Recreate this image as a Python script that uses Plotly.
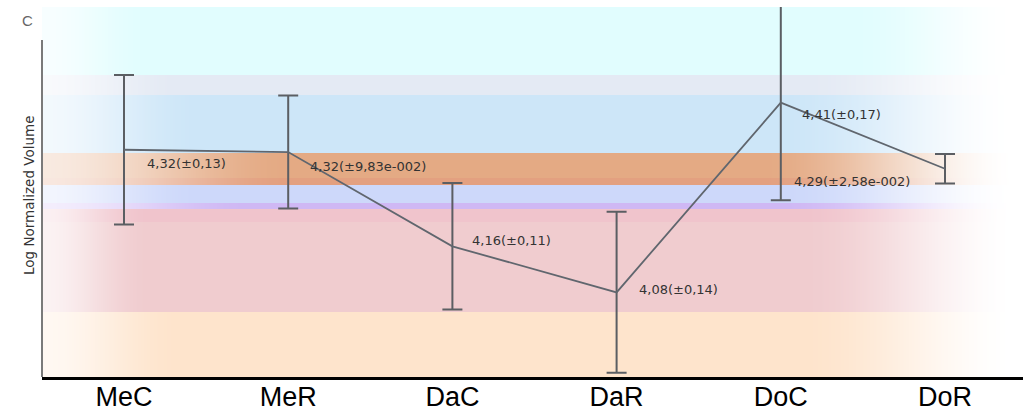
import base64
import struct
import zlib

import numpy as np
import plotly.graph_objects as go

# ---------------- data ----------------
categories = ["MeC", "MeR", "DaC", "DaR", "DoC", "DoR"]
means = [4.324, 4.320, 4.156, 4.076, 4.406, 4.291]
errors = [0.13, 0.0983, 0.11, 0.14, 0.17, 0.0258]
labels = ["4,32(±0,13)", "4,32(±9,83e-002)", "4,16(±0,11)",
          "4,08(±0,14)", "4,41(±0,17)", "4,29(±2,58e-002)"]
y_title = "Log Normalized Volume"
panel_letter = "C"

# ---------------- geometry / style ----------------
W, H = 1023, 412
ML, MR, MT, MB = 42, 0, 7, 35
PW, PH = W - ML - MR, H - MT - MB
x_range = [-0.4994, 5.475]
y_range = [3.9288, 4.5723]

# label offsets in pixels (xshift, yshift)
label_offsets = [(21, -14), (20, -14), (18, 6), (20, 3), (19, -12), (-153, -13)]

# background bands: (top px, bottom px, colour, left ramp end px, right ramp start px)
bands = [
    (7, 75, "#e1fdfe", 150, 850),
    (75, 95, "#e4eaf4", 180, 800),
    (95, 153, "#cde6f8", 200, 780),
    (153, 178, "#e4aa84", 290, 760),
    (178, 185, "#e3a080", 290, 760),
    (185, 203, "#cdd8fa", 200, 780),
    (203, 209, "#cfb8f4", 250, 780),
    (209, 222, "#f0c4cc", 150, 800),
    (222, 312, "#f0cccf", 150, 800),
    (312, 377, "#fee4cc", 180, 800),
]


def hex_rgb(h):
    h = h.lstrip("#")
    return np.array([int(h[i:i + 2], 16) for i in (0, 2, 4)], dtype=float)


def smooth(t):
    return t * t * (3 - 2 * t)


def build_background():
    xs = ML + np.arange(PW) + 0.5
    img = np.full((PH, PW, 3), 255.0)
    for top, bot, col, lend, rstart in bands:
        left = np.clip((xs - ML) / (lend - ML), 0, 1)
        left = 0.25 + 0.75 * smooth(left)
        right = smooth(np.clip((1018 - xs) / (1018 - rstart), 0, 1))
        a = np.minimum(left, right)
        c = hex_rgb(col)
        row = 255 - a[:, None] * (255 - c[None, :])
        r0, r1 = top - MT, bot - MT
        img[r0:r1] = row[None, :, :]
    return np.clip(np.round(img), 0, 255).astype(np.uint8)


def png_uri(arr):
    h, w, _ = arr.shape
    raw = b"".join(b"\x00" + arr[i].tobytes() for i in range(h))

    def chunk(t, d):
        return struct.pack(">I", len(d)) + t + d + struct.pack(">I", zlib.crc32(t + d) & 0xffffffff)

    data = (b"\x89PNG\r\n\x1a\n"
            + chunk(b"IHDR", struct.pack(">IIBBBBB", w, h, 8, 2, 0, 0, 0))
            + chunk(b"IDAT", zlib.compress(raw, 9))
            + chunk(b"IEND", b""))
    return "data:image/png;base64," + base64.b64encode(data).decode()


xs_idx = list(range(len(categories)))

fig = go.Figure()
fig.add_trace(go.Scatter(
    x=xs_idx, y=means, mode="lines",
    line=dict(color="#60666e", width=1.8),
    error_y=dict(type="data", array=errors, visible=True,
                 color="#5b5e63", thickness=2, width=10),
    hoverinfo="skip", cliponaxis=True,
))

annotations = []
for i, (lab, (dx, dy)) in enumerate(zip(labels, label_offsets)):
    annotations.append(dict(
        x=xs_idx[i], y=means[i], xref="x", yref="y", text=lab,
        showarrow=False, xanchor="left", yanchor="middle",
        xshift=dx, yshift=dy,
        font=dict(family="DejaVu Sans", size=13, color="#333333"),
    ))

annotations.append(dict(
    x=(29 - ML) / PW, y=(MT + PH - 196) / PH, xref="paper", yref="paper",
    text=y_title, textangle=-90, showarrow=False,
    xanchor="center", yanchor="middle",
    font=dict(family="DejaVu Sans", size=13.5, color="#333333"),
))
annotations.append(dict(
    x=(27 - ML) / PW, y=(MT + PH - 21) / PH, xref="paper", yref="paper",
    text=panel_letter, showarrow=False, xanchor="center", yanchor="middle",
    font=dict(family="Liberation Sans", size=15, color="#666666"),
))

fig.update_layout(
    width=W, height=H, autosize=False,
    margin=dict(l=ML, r=MR, t=MT, b=MB, pad=0),
    paper_bgcolor="white", plot_bgcolor="white",
    showlegend=False,
    font=dict(family="Liberation Sans, Arial", color="black"),
    xaxis=dict(
        range=x_range, tickmode="array", tickvals=xs_idx, ticktext=categories,
        showgrid=False, zeroline=False, showline=True, linecolor="black",
        linewidth=3, ticks="", automargin=False, ticklabelstandoff=-6,
        tickfont=dict(family="Liberation Sans, Arial", size=27, color="black"),
    ),
    yaxis=dict(
        range=y_range, showgrid=False, zeroline=False, showline=False,
        showticklabels=False, ticks="", automargin=False,
    ),
    images=[dict(
        source=png_uri(build_background()), xref="paper", yref="paper",
        x=0, y=1, sizex=1, sizey=1, xanchor="left", yanchor="top",
        sizing="stretch", layer="below",
    )],
    shapes=[dict(
        type="line", xref="paper", yref="paper", x0=0, x1=0,
        y0=0, y1=(MT + PH - 40) / PH,
        line=dict(color="#7a7a7a", width=2),
    )],
    annotations=annotations,
)

fig.write_html("out.html", config={"displayModeBar": False},
               post_script="document.body.style.margin='0';")
